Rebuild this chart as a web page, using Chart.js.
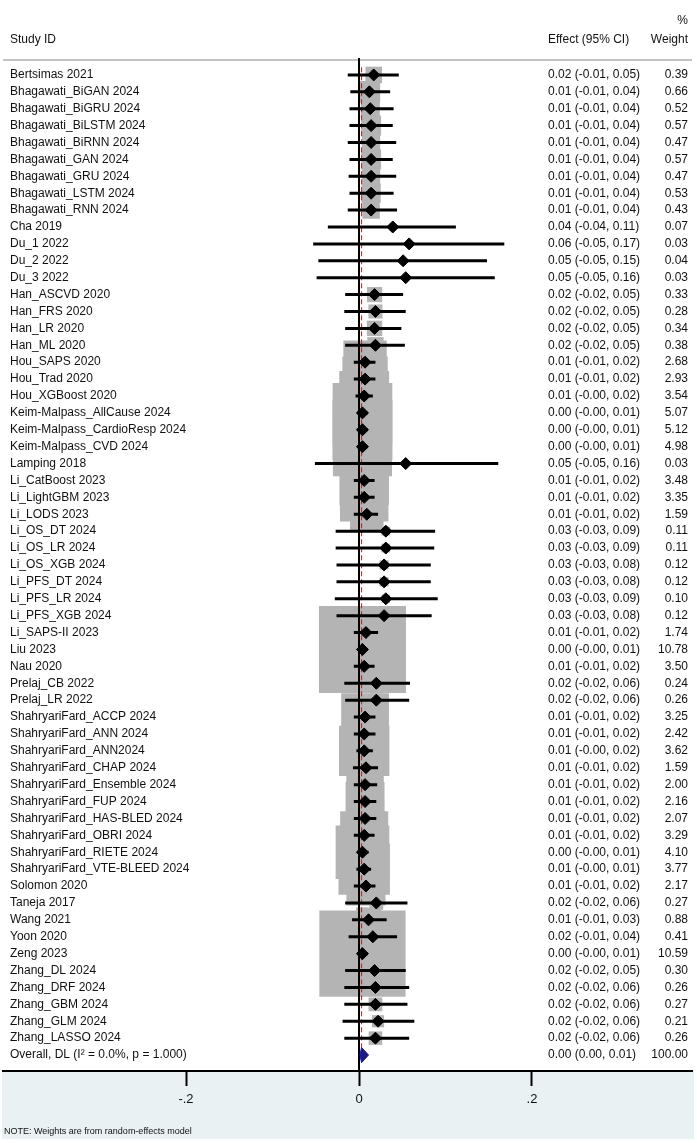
<!DOCTYPE html>
<html>
<head>
<meta charset="utf-8">
<title>Forest plot</title>
<script src="https://cdn.jsdelivr.net/npm/chart.js@4.4.1/dist/chart.umd.min.js"></script>
<style>
  html, body { margin: 0; padding: 0; background: #fff; }
  canvas { display: block; }
</style>
</head>
<body>
<canvas id="forest" width="697" height="1143"></canvas>
<script>
// study rows, top to bottom
const studies = [
  "Bertsimas 2021", "Bhagawati_BiGAN 2024", "Bhagawati_BiGRU 2024", "Bhagawati_BiLSTM 2024",
  "Bhagawati_BiRNN 2024", "Bhagawati_GAN 2024", "Bhagawati_GRU 2024", "Bhagawati_LSTM 2024",
  "Bhagawati_RNN 2024", "Cha 2019", "Du_1 2022", "Du_2 2022", "Du_3 2022",
  "Han_ASCVD 2020", "Han_FRS 2020", "Han_LR 2020", "Han_ML 2020",
  "Hou_SAPS 2020", "Hou_Trad 2020", "Hou_XGBoost 2020",
  "Keim-Malpass_AllCause 2024", "Keim-Malpass_CardioResp 2024", "Keim-Malpass_CVD 2024",
  "Lamping 2018", "Li_CatBoost 2023", "Li_LightGBM 2023", "Li_LODS 2023",
  "Li_OS_DT 2024", "Li_OS_LR 2024", "Li_OS_XGB 2024", "Li_PFS_DT 2024", "Li_PFS_LR 2024",
  "Li_PFS_XGB 2024", "Li_SAPS-II 2023", "Liu 2023", "Nau 2020", "Prelaj_CB 2022", "Prelaj_LR 2022",
  "ShahryariFard_ACCP 2024", "ShahryariFard_ANN 2024", "ShahryariFard_ANN2024",
  "ShahryariFard_CHAP 2024", "ShahryariFard_Ensemble 2024", "ShahryariFard_FUP 2024",
  "ShahryariFard_HAS-BLED 2024", "ShahryariFard_OBRI 2024", "ShahryariFard_RIETE 2024",
  "ShahryariFard_VTE-BLEED 2024", "Solomon 2020", "Taneja 2017", "Wang 2021", "Yoon 2020",
  "Zeng 2023", "Zhang_DL 2024", "Zhang_DRF 2024", "Zhang_GBM 2024", "Zhang_GLM 2024",
  "Zhang_LASSO 2024"
];

// effect estimates and 95% CI
const est = [
  0.017, 0.012, 0.013, 0.014, 0.014, 0.014, 0.014, 0.014, 0.014, 0.039, 0.058, 0.051, 0.054,
  0.018, 0.019, 0.018, 0.019, 0.007, 0.007, 0.006, 0.004, 0.004, 0.004, 0.054, 0.006, 0.006,
  0.009, 0.031, 0.031, 0.029, 0.029, 0.031, 0.029, 0.008, 0.004, 0.006, 0.020, 0.020,
  0.007, 0.006, 0.006, 0.008, 0.007, 0.007, 0.007, 0.006, 0.004, 0.006, 0.008, 0.020,
  0.011, 0.016, 0.004, 0.018, 0.019, 0.019, 0.022, 0.019
];
const lo = [
  -0.013, -0.010, -0.011, -0.011, -0.013, -0.011, -0.012, -0.011, -0.013, -0.036, -0.053, -0.047, -0.049,
  -0.016, -0.017, -0.016, -0.016, -0.006, -0.006, -0.004, -0.002, -0.002, -0.002, -0.051, -0.006, -0.006,
  -0.006, -0.027, -0.027, -0.026, -0.026, -0.028, -0.026, -0.006, -0.002, -0.006, -0.017, -0.016,
  -0.006, -0.006, -0.003, -0.007, -0.006, -0.006, -0.006, -0.006, -0.002, -0.003, -0.006, -0.016,
  -0.008, -0.012, -0.002, -0.016, -0.017, -0.017, -0.019, -0.017
];
const hi = [
  0.046, 0.036, 0.040, 0.039, 0.043, 0.039, 0.043, 0.040, 0.044, 0.112, 0.168, 0.148, 0.157,
  0.051, 0.054, 0.049, 0.053, 0.019, 0.019, 0.016, 0.010, 0.010, 0.010, 0.161, 0.018, 0.018,
  0.022, 0.088, 0.087, 0.083, 0.083, 0.091, 0.084, 0.022, 0.010, 0.018, 0.059, 0.058,
  0.019, 0.019, 0.016, 0.022, 0.021, 0.020, 0.020, 0.018, 0.011, 0.014, 0.019, 0.056,
  0.032, 0.044, 0.010, 0.054, 0.058, 0.056, 0.064, 0.058
];
const weights = [
  0.39, 0.66, 0.52, 0.57, 0.47, 0.57, 0.47, 0.53, 0.43, 0.07, 0.03, 0.04, 0.03,
  0.33, 0.28, 0.34, 0.38, 2.68, 2.93, 3.54, 5.07, 5.12, 4.98, 0.03, 3.48, 3.35,
  1.59, 0.11, 0.11, 0.12, 0.12, 0.10, 0.12, 1.74, 10.78, 3.50, 0.24, 0.26,
  3.25, 2.42, 3.62, 1.59, 2.00, 2.16, 2.07, 3.29, 4.10, 3.77, 2.17, 0.27,
  0.88, 0.41, 10.59, 0.30, 0.26, 0.27, 0.21, 0.26
];

// pooled estimate
const overallLabel = "Overall, DL (I\u00b2 = 0.0%, p = 1.000)";
const overallEst = 0.003;
const overallLo = 0.001;
const overallHi = 0.011;
const overallWeight = 100;

// x axis
const xTicks = [-0.2, 0, 0.2];
const xTickLabels = ["-.2", "0", ".2"];

const FONT = "'Liberation Sans', Arial, Helvetica, sans-serif";
const nRows = studies.length + 1;
const overallRow = nRows;

const rowOf = (i) => i + 1;

const boxPoints = studies.map((_, i) => ({ x: est[i], y: rowOf(i), w: weights[i] }));
const diamondPoints = studies.map((_, i) => ({ x: est[i], y: rowOf(i) }));
const ciSegments = [];
studies.forEach((_, i) => {
  ciSegments.push({ x: lo[i], y: rowOf(i) });
  ciSegments.push({ x: hi[i], y: rowOf(i) });
  ciSegments.push({ x: NaN, y: NaN });
});

const fmt = (v) => v.toFixed(2);
const effectText = (e, l, h) => `${fmt(e)} (${fmt(l)}, ${fmt(h)})`;

const forestText = {
  id: "forestText",
  beforeDraw(chart) {
    const { ctx, chartArea } = chart;
    ctx.save();
    ctx.fillStyle = "#ffffff";
    ctx.fillRect(0, 0, chart.width, chart.height);
    ctx.fillStyle = "#e9f1f3";
    ctx.fillRect(2, chartArea.bottom, chart.width - 5, 1139 - chartArea.bottom);
    // header rule
    ctx.fillStyle = "#c4c4c4";
    ctx.fillRect(3, chartArea.top + 1, 689, 2);
    ctx.restore();
  },
  afterDraw(chart) {
    const { ctx } = chart;
    const y = chart.scales.y;
    ctx.save();
    ctx.fillStyle = "#111";
    ctx.textBaseline = "middle";
    ctx.font = `12px ${FONT}`;

    // header
    ctx.textAlign = "left";
    ctx.fillText("Study ID", 10, 40);
    ctx.fillText("Effect (95% CI)", 548, 40);
    ctx.textAlign = "right";
    ctx.fillText("%", 688, 21);
    ctx.fillText("Weight", 688, 40);

    studies.forEach((name, i) => {
      const py = y.getPixelForValue(rowOf(i));
      ctx.textAlign = "left";
      ctx.fillText(name, 10, py);
      ctx.fillText(effectText(est[i], lo[i], hi[i]), 548, py);
      ctx.textAlign = "right";
      ctx.fillText(fmt(weights[i]), 688, py);
    });
    const po = y.getPixelForValue(overallRow);
    ctx.textAlign = "left";
    ctx.fillText(overallLabel, 10, po);
    ctx.fillText(effectText(overallEst, overallLo, overallHi), 548, po);
    ctx.textAlign = "right";
    ctx.fillText(fmt(overallWeight), 688, po);

    ctx.textAlign = "left";
    ctx.font = `9px ${FONT}`;
    ctx.fillText("NOTE: Weights are from random-effects model", 4, 1132);
    ctx.restore();
  },
};

new Chart(document.getElementById("forest"), {
  type: "scatter",
  data: {
    datasets: [
      {
        label: "weight boxes",
        data: boxPoints,
        pointStyle: "rect",
        backgroundColor: "#b4b4b4",
        borderWidth: 0,
        radius: (c) => (26.5 * Math.sqrt(c.raw ? c.raw.w : 0)) / Math.SQRT2,
        order: 6,
      },
      {
        type: "line",
        label: "null line",
        data: [{ x: 0, y: 0 }, { x: 0, y: nRows + 1 }],
        borderColor: "#000",
        borderWidth: 2,
        pointRadius: 0,
        fill: false,
        order: 5,
      },
      {
        type: "line",
        label: "overall line",
        data: [{ x: overallEst, y: 0.55 }, { x: overallEst, y: overallRow - 0.45 }],
        borderColor: "#b0201e",
        borderWidth: 1,
        borderDash: [5, 3],
        pointRadius: 0,
        fill: false,
        order: 4,
      },
      {
        type: "line",
        label: "CI",
        data: ciSegments,
        borderColor: "#000",
        borderWidth: 3,
        pointRadius: 0,
        spanGaps: false,
        fill: false,
        order: 3,
      },
      {
        label: "estimate",
        data: diamondPoints,
        pointStyle: "rectRot",
        backgroundColor: "#000",
        borderColor: "#000",
        borderWidth: 1,
        radius: 6,
        order: 2,
      },
      {
        type: "line",
        label: "overall",
        data: [
          { x: overallLo, y: overallRow },
          { x: overallEst, y: overallRow - 0.45 },
          { x: overallHi, y: overallRow },
          { x: overallEst, y: overallRow + 0.45 },
          { x: overallLo, y: overallRow },
        ],
        borderColor: "#1a1a8c",
        backgroundColor: "#1a1a8c",
        borderWidth: 1,
        pointRadius: 0,
        fill: "shape",
        order: 1,
      },
    ],
  },
  options: {
    responsive: false,
    animation: false,
    events: [],
    layout: { autoPadding: false, padding: { top: 58, left: 3, right: 5, bottom: 0 } },
    plugins: { legend: { display: false }, tooltip: { enabled: false } },
    scales: {
      x: {
        type: "linear",
        min: -0.4116,
        max: 0.385,
        afterBuildTicks: (scale) => {
          scale.ticks = xTicks.map((v) => ({ value: v }));
        },
        afterFit: (scale) => {
          scale.height = 1143 - 1071;
        },
        ticks: {
          color: "#111",
          font: { family: FONT, size: 13 },
          padding: 6,
          maxRotation: 0,
          callback: (v) => xTickLabels[xTicks.indexOf(v)],
        },
        grid: {
          drawOnChartArea: false,
          drawTicks: true,
          tickLength: 15,
          tickWidth: 2,
          tickColor: "#000",
        },
        border: { display: true, color: "#000", width: 2 },
      },
      y: {
        type: "linear",
        reverse: true,
        min: 0,
        max: 59.945,
        display: false,
      },
    },
  },
  plugins: [forestText],
});
</script>
</body>
</html>
